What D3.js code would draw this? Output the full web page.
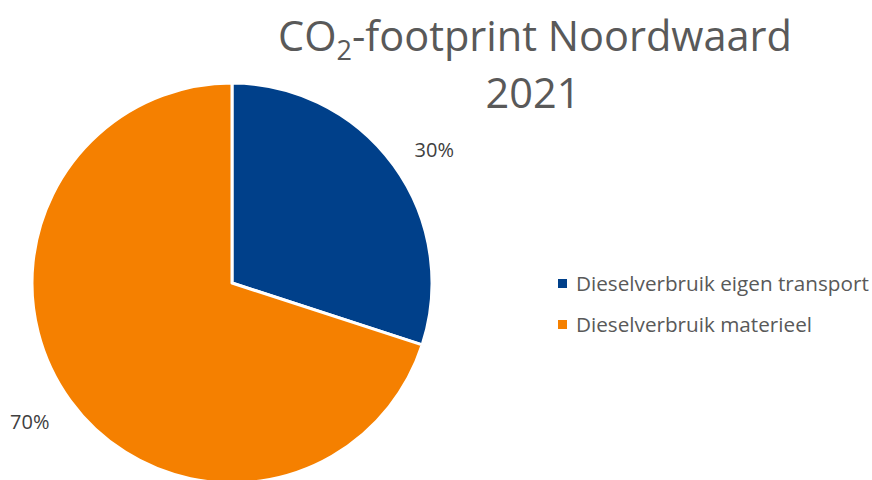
<!DOCTYPE html>
<html>
<head>
<meta charset="utf-8">
<script src="https://cdn.jsdelivr.net/npm/d3@7"></script>
<style>
  html, body { margin: 0; padding: 0; background: #fff; }
  svg { display: block; font-family: "Open Sans", "Noto Sans", sans-serif; }
</style>
</head>
<body>
<svg id="chart" width="872" height="480"></svg>
<script>
// Share of CO2 footprint per source
const categories = ["Dieselverbruik eigen transport", "Dieselverbruik materieel"];
const values = [30, 70];
const colors = ["#00408A", "#F58000"];
const labelText = ["30%", "70%"];

const svg = d3.select("#chart");

// Title with subscript 2
const title = svg.append("text")
  .attr("x", 535).attr("y", 51)
  .attr("text-anchor", "middle")
  .attr("fill", "#595959")
  .style("font-size", "41.5px");
title.append("tspan").text("CO");
title.append("tspan").text("2").attr("dy", 9).style("font-size", "27px");
title.append("tspan").text("-footprint Noordwaard").attr("dy", -9);

svg.append("text")
  .attr("x", 533).attr("y", 108)
  .attr("text-anchor", "middle")
  .attr("fill", "#595959")
  .style("font-size", "41.5px")
  .text("2021");

// Pie
const cx = 232, cy = 283, R = 200;
const pie = d3.pie().sort(null).value(d => d);
const arcs = pie(values);
const arc = d3.arc().innerRadius(0).outerRadius(R);
const labelArc = d3.arc().innerRadius(250).outerRadius(250);

const g = svg.append("g").attr("transform", `translate(${cx},${cy})`);
g.selectAll("path.slice")
  .data(arcs)
  .join("path")
  .attr("class", "slice")
  .attr("d", arc)
  .attr("fill", (d, i) => colors[i])
  .attr("stroke", "#fff")
  .attr("stroke-width", 3)
  .attr("stroke-linejoin", "round");

// Data labels outside the slices
const labelNudge = [13, -8];
g.selectAll("text.lbl")
  .data(arcs)
  .join("text")
  .attr("class", "lbl")
  .attr("x", d => labelArc.centroid(d)[0])
  .attr("y", (d, i) => labelArc.centroid(d)[1] + labelNudge[i])
  .attr("text-anchor", "middle")
  .attr("dominant-baseline", "central")
  .attr("fill", "#404040")
  .style("font-size", "20px")
  .text((d, i) => labelText[i]);

// Legend
const legend = svg.append("g").attr("transform", "translate(558,283)");
const item = legend.selectAll("g")
  .data(categories)
  .join("g")
  .attr("transform", (d, i) => `translate(0,${i * 41})`);
item.append("rect")
  .attr("x", 0).attr("y", -4)
  .attr("width", 9).attr("height", 9)
  .attr("fill", (d, i) => colors[i]);
item.append("text")
  .attr("x", 18).attr("y", 0)
  .attr("dominant-baseline", "central")
  .attr("fill", "#595959")
  .style("font-size", "20.7px")
  .text(d => d);
</script>
</body>
</html>
